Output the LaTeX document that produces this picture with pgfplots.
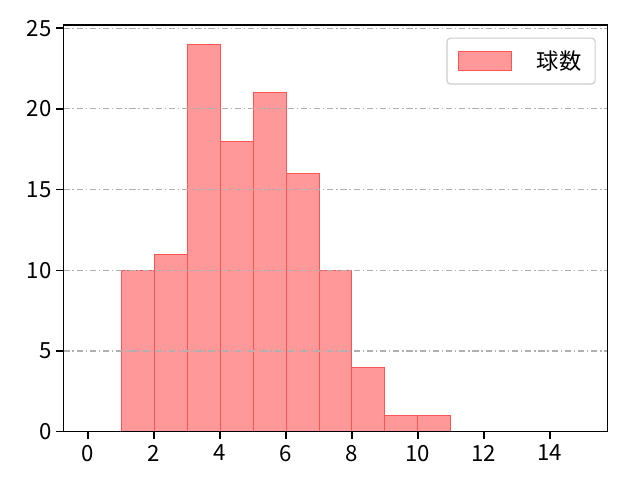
\documentclass[border=0pt]{standalone}
\usepackage{fontspec}
\setmainfont{Noto Sans CJK JP}
\usepackage{pgfplots}
\pgfplotsset{compat=1.18}

\definecolor{barfill}{RGB}{255,153,153}
\definecolor{baredge}{RGB}{255,85,85}
\definecolor{gridgray}{RGB}{176,176,176}

\begin{document}
\begin{tikzpicture}
\begin{axis}[
    scale only axis,
    width=391.9pt, height=292.8pt,
    xmin=-0.75, xmax=15.75,
    ymin=0, ymax=25.2,
    xtick={0,2,...,14},
    ytick={0,5,...,25},
    xtick pos=bottom, ytick pos=left,
    tick align=outside,
    major tick length=5pt,
    axis line style={line width=1.1pt},
    tick style={line width=1.1pt, black},
    ymajorgrids,
    major grid style={gridgray, line width=0.8pt, dash pattern=on 4.5pt off 2pt on 1pt off 2pt},
    axis on top,
    /pgf/number format/assume math mode=true,
    tick label style={font=\fontsize{16}{19}\selectfont},
    xticklabel style={yshift=-1pt},
    legend style={at={(rel axis cs:1,1)}, anchor=north east, xshift=-8.6pt, yshift=-9.1pt,
        draw=black!20, rounded corners=2.5pt, line width=0.8pt,
        font=\fontsize{16}{19}\selectfont,
        inner xsep=8pt, inner ysep=7pt,
        nodes={inner sep=2pt}},
    legend cell align=left,
    legend image code/.code={\draw[#1, sharp corners] (0pt,-6.85pt) rectangle (38pt,6.85pt);},
]
\addplot[ybar interval, fill=barfill, draw=baredge, line width=0.7pt]
    coordinates {(1,10) (2,11) (3,24) (4,18) (5,21) (6,16) (7,10) (8,4) (9,1) (10,1) (11,1)};
\addlegendentry{\hspace{16pt}球数}
\end{axis}
\path[use as bounding box] (-45.6pt,-34.8pt) rectangle (415.2pt,310.8pt);
\end{tikzpicture}
\end{document}
